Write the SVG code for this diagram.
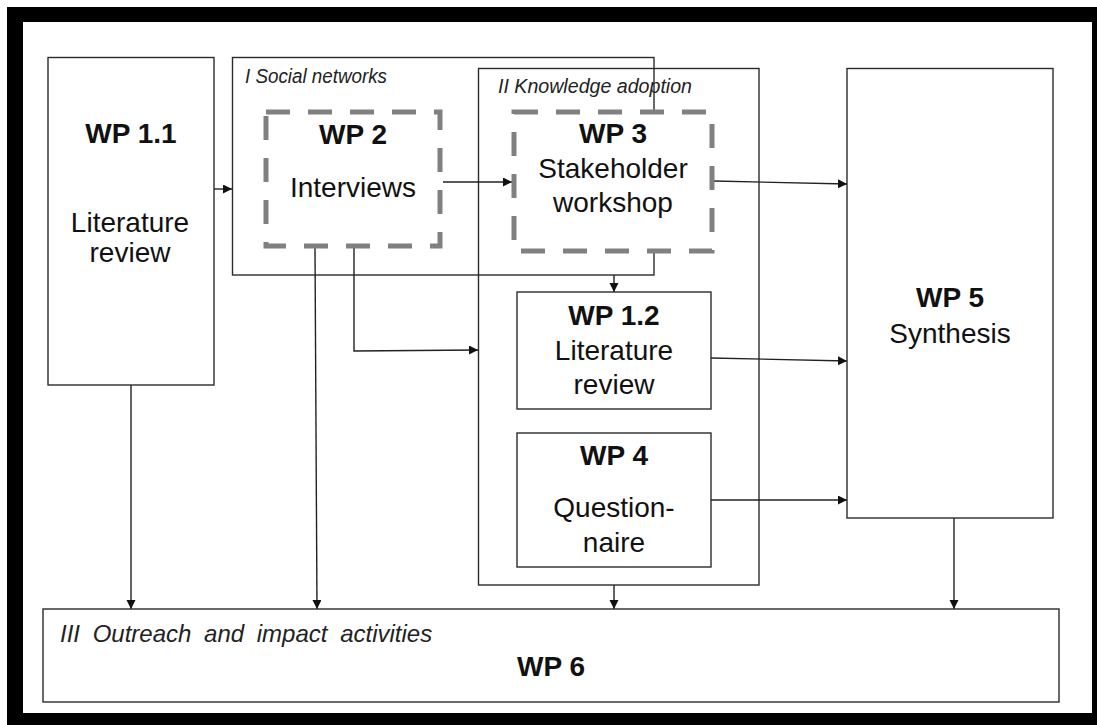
<svg xmlns="http://www.w3.org/2000/svg" width="1097" height="725" viewBox="0 0 1097 725">
  <style>
    .box { fill: none; stroke: #2b2b2b; stroke-width: 1.4; }
    .wbox { fill: #ffffff; stroke: #2b2b2b; stroke-width: 1.4; }
    .dash { fill: #ffffff; stroke: #808080; stroke-width: 5; stroke-dasharray: 24 18; }
    .con { fill: none; stroke: #222222; stroke-width: 1.4; marker-end: url(#arr); }
    .t { font-family: "Liberation Sans", Arial, sans-serif; font-size: 28px; fill: #111111; text-anchor: middle; }
    .b { font-weight: bold; }
    .it { font-family: "Liberation Sans", Arial, sans-serif; font-style: italic; fill: #222222; }
  </style>
  <defs>
    <marker id="arr" markerUnits="userSpaceOnUse" markerWidth="10" markerHeight="10" refX="9" refY="4.5" orient="auto">
      <path d="M0,0 L9,4.5 L0,9 Z" fill="#111111"/>
    </marker>
  </defs>

  <!-- page background and thick black frame -->
  <rect x="0" y="0" width="1097" height="725" fill="#ffffff"/>
  <path d="M7,7 H1097 V725 H7 Z M23,22 V713 H1092 V22 Z" fill="#000000" fill-rule="evenodd"/>

  <!-- grouping frames -->
  <g id="social-networks">
    <rect class="box" x="232.5" y="57.5" width="421.5" height="217.5"/>
    <text class="it" x="245" y="83" font-size="20" textLength="142" lengthAdjust="spacingAndGlyphs">I Social networks</text>
  </g>
  <g id="knowledge-adoption">
    <rect class="box" x="478.5" y="68.5" width="280.5" height="516.5"/>
    <text class="it" x="498" y="93" font-size="20" textLength="194" lengthAdjust="spacingAndGlyphs">II Knowledge adoption</text>
  </g>

  <!-- connectors -->
  <g id="connectors">
    <line class="con" x1="214" y1="189" x2="232" y2="189"/>
    <line class="con" x1="443" y1="182" x2="512" y2="182"/>
    <line class="con" x1="714" y1="181" x2="847" y2="184"/>
    <line class="con" x1="614" y1="275" x2="614" y2="292"/>
    <polyline class="con" points="354,248 354,351 478,350"/>
    <line class="con" x1="315" y1="248" x2="317" y2="609"/>
    <line class="con" x1="131" y1="385" x2="131" y2="609"/>
    <line class="con" x1="614" y1="585" x2="614" y2="609"/>
    <line class="con" x1="711" y1="358" x2="847" y2="361"/>
    <line class="con" x1="711" y1="500" x2="847" y2="500"/>
    <line class="con" x1="954" y1="518" x2="954" y2="609"/>
  </g>

  <g id="wp1-1">
    <rect class="wbox" x="48" y="57.5" width="166" height="327.5"/>
    <text class="t b" x="131" y="143">WP 1.1</text>
    <text class="t" x="130" y="232">Literature</text>
    <text class="t" x="130" y="262">review</text>
  </g>

  <g id="wp2">
    <rect class="dash" x="266" y="112" width="174" height="134"/>
    <text class="t b" x="353" y="144">WP 2</text>
    <text class="t" x="353" y="197">Interviews</text>
  </g>

  <g id="wp3">
    <rect class="dash" x="514" y="112" width="198" height="139"/>
    <text class="t b" x="613" y="143">WP 3</text>
    <text class="t" x="613" y="178">Stakeholder</text>
    <text class="t" x="613" y="212">workshop</text>
  </g>

  <g id="wp1-2">
    <rect class="wbox" x="517" y="292" width="194" height="117"/>
    <text class="t b" x="614" y="325">WP 1.2</text>
    <text class="t" x="614" y="360">Literature</text>
    <text class="t" x="614" y="394">review</text>
  </g>

  <g id="wp4">
    <rect class="wbox" x="517" y="433" width="194" height="134"/>
    <text class="t b" x="614" y="465">WP 4</text>
    <text class="t" x="614" y="517">Question-</text>
    <text class="t" x="614" y="552">naire</text>
  </g>

  <g id="wp5">
    <rect class="wbox" x="847" y="68.5" width="206" height="449.5"/>
    <text class="t b" x="950" y="307">WP 5</text>
    <text class="t" x="950" y="343">Synthesis</text>
  </g>

  <g id="wp6">
    <rect class="wbox" x="43" y="609" width="1016" height="93"/>
    <text class="it" x="60" y="642" font-size="24" word-spacing="6">III Outreach and impact activities</text>
    <text class="t b" x="551" y="676">WP 6</text>
  </g>
</svg>
